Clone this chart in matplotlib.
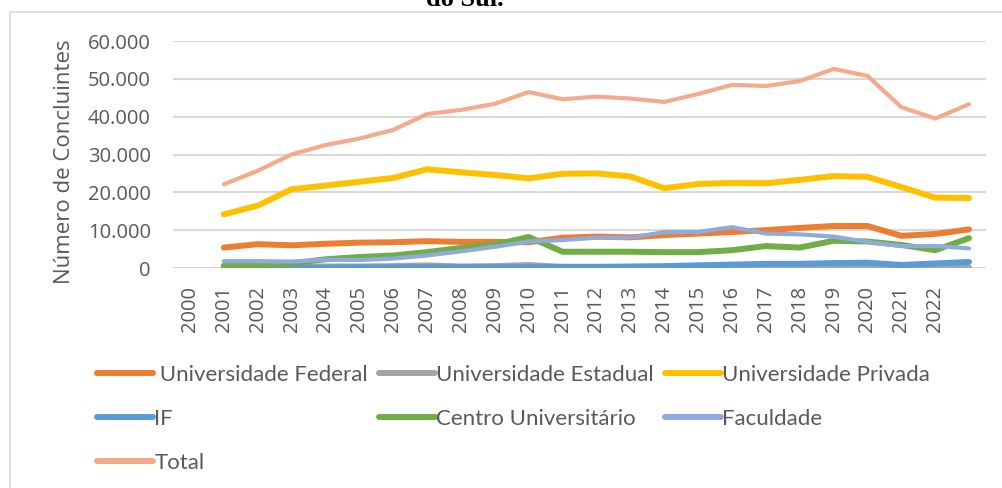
import matplotlib
matplotlib.use("Agg")
import matplotlib.pyplot as plt
from matplotlib.lines import Line2D
from matplotlib.ticker import FuncFormatter

# ---- data ----
tick_labels = [str(y) for y in range(2000, 2023)]
n_points = 23  # plotted at category positions 1..23

federal = [5400, 6300, 6000, 6400, 6700, 6800, 7100, 6900, 6900, 6800, 8000, 8300, 8100,
           8700, 9100, 9500, 10000, 10600, 11100, 11100, 8500, 9000, 10200]
estadual = [200, 300, 300, 400, 400, 500, 700, 400, 500, 800, 300, 300, 200,
            200, 200, 200, 200, 200, 100, 100, 100, 300, 100]
privada = [14200, 16500, 20800, 21800, 22800, 23800, 26100, 25300, 24600, 23700, 24900, 25000, 24200,
           21100, 22200, 22500, 22400, 23300, 24300, 24100, 21400, 18600, 18500]
if_ = [100, 100, 100, 100, 150, 200, 200, 200, 200, 200, 300, 300, 400,
       500, 700, 900, 1100, 1100, 1300, 1400, 800, 1200, 1600]
centro = [600, 700, 1200, 2300, 2900, 3300, 4200, 5300, 6200, 8200, 4300, 4300, 4300,
          4200, 4200, 4700, 5800, 5400, 7200, 7000, 6100, 4700, 7900]
faculdade = [1800, 1800, 1700, 2200, 2100, 2500, 3300, 4400, 5600, 7000, 7400, 8000, 8000,
             9500, 9500, 10800, 9100, 8900, 8300, 6900, 5800, 5800, 5200]
total = [22100, 25700, 30000, 32500, 34200, 36500, 40700, 41800, 43400, 46500, 44600, 45300, 44800,
         43900, 46000, 48400, 48100, 49400, 52600, 50800, 42500, 39500, 43300]

series_names = [" Universidade Federal", "Universidade Estadual", "Universidade Privada",
                "IF", "Centro Universitário", "Faculdade", "Total"]
series_values = [federal, estadual, privada, if_, centro, faculdade, total]
series_colors = ["#ED7D31", "#A5A5A5", "#FFC000", "#5B9BD5", "#70AD47", "#8FAADC", "#F4AA8C"]
series_lw = [4.3, 4.3, 4.3, 4.3, 4.3, 3.0, 3.0]

W, H = 1002, 488
fig = plt.figure(figsize=(W / 100, H / 100), dpi=100)

# chart border (light gray) at left/top
fig.add_artist(Line2D([10 / W, 10 / W], [0, 1 - 12 / H], color="#D9D9D9", lw=1.2, transform=fig.transFigure))
fig.add_artist(Line2D([10 / W, 1], [1 - 12 / H, 1 - 12 / H], color="#D9D9D9", lw=1.2, transform=fig.transFigure))

# title (cut off at the top edge, as in the original)
fig.text(465 / W, 1 - 6 / H, "do Sul.", family="Liberation Serif", weight="bold",
         fontsize=19, ha="center", va="baseline", color="black")

ax = fig.add_axes([173 / W, 1 - 268 / H, (986 - 173) / W, (268 - 41) / H])
xs = list(range(1, n_points + 1))
handles = []
for name, vals, c, lw in zip(series_names, series_values, series_colors, series_lw):
    ln, = ax.plot(xs, vals, color=c, lw=lw, solid_capstyle="round", solid_joinstyle="round", label=name)
    handles.append(ln)

ax.set_xlim(-0.5, 23.5)
ax.set_ylim(0, 60000)
ax.set_yticks(range(0, 60001, 10000))
ax.yaxis.set_major_formatter(FuncFormatter(lambda v, p: f"{int(v):,}".replace(",", ".")))
ax.set_xticks(range(len(tick_labels)))
ax.set_xticklabels(tick_labels, rotation=90, family="Open Sans", fontsize=14.5, color="#595959")
for lab in ax.get_yticklabels():
    lab.set_family("Open Sans")
    lab.set_fontsize(14.5)
    lab.set_color("#595959")
ax.tick_params(axis="both", length=0)
ax.tick_params(axis="y", pad=16)
ax.tick_params(axis="x", pad=13)
ax.grid(axis="y", color="#D9D9D9", lw=1.5)
ax.set_axisbelow(True)
for s in ax.spines.values():
    s.set_visible(False)

fig.text(65 / W, 1 - 162 / H, "Número de Concluintes", rotation=90, family="Open Sans",
         fontsize=16, color="#595959", ha="center", va="center")

# legend filled row by row (matplotlib fills columns, so reorder)
order = [0, 3, 6, 1, 4, 2, 5]
leg = fig.legend([handles[i] for i in order], [series_names[i] for i in order], ncol=3,
                 loc="upper left", bbox_to_anchor=(97 / W, 1 - 365 / H), frameon=False,
                 borderpad=0, borderaxespad=0,
                 prop={"family": "Lato", "size": 16}, handlelength=2.5, handletextpad=0.08,
                 columnspacing=0.5, labelspacing=1.08)
for t in leg.get_texts():
    t.set_color("#595959")
for h in leg.get_lines():
    h.set_linewidth(4.3)
    h.set_solid_capstyle("round")

fig.savefig("out.png", dpi=100)
